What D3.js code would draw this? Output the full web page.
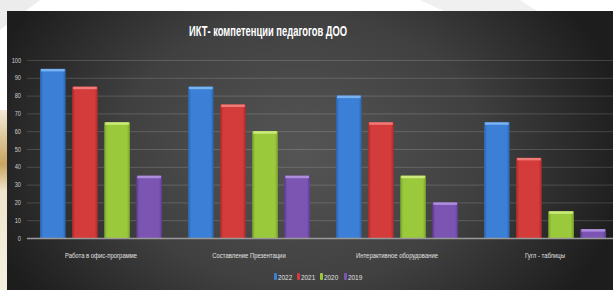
<!DOCTYPE html>
<html>
<head>
<meta charset="utf-8">
<script src="https://cdn.jsdelivr.net/npm/d3@7"></script>
<style>
  html, body { margin: 0; padding: 0; background: #ffffff; overflow: hidden; }
  svg { display: block; }
</style>
</head>
<body>
<svg id="chart" width="613" height="290"></svg>
<script>
// ---- data ----
const title = "ИКТ- компетенции педагогов ДОО";
const categories = ["Работа в  офис-программе", "Составление Презентации", "Интерактивное оборудование", "Гугл - таблицы"];
const seriesNames = ["2022", "2021", "2020", "2019"];
const values2022 = [95, 85, 80, 65];
const values2021 = [85, 75, 65, 45];
const values2020 = [65, 60, 35, 15];
const values2019 = [35, 35, 20, 5];
const yTicks = [0, 10, 20, 30, 40, 50, 60, 70, 80, 90, 100];

const seriesValues = [values2022, values2021, values2020, values2019];
const colors = ["#3b80d6", "#d43b3b", "#9bc93c", "#7c55b2"];
const lightColors = ["#79b2f0", "#f07a78", "#cdeb7c", "#ad8edc"];
const darkColors = ["#2a62a8", "#a82a2a", "#78a22a", "#5d3c8e"];

const svg = d3.select("#chart");
const W = 613, H = 290;
const font = "'Liberation Sans', 'DejaVu Sans', sans-serif";

const defs = svg.append("defs");

// background decoration
svg.append("rect").attr("width", W).attr("height", H).attr("fill", "#ffffff");
svg.append("path").attr("d", "M0,0 L40,0 L0,30 Z").attr("fill", "#ececec");
svg.append("path").attr("d", "M420,0 L520,0 L613,60 L613,90 Z").attr("fill", "#f0f0f0");
const beige = defs.append("linearGradient").attr("id", "beige").attr("x1", 0).attr("y1", 0).attr("x2", 0).attr("y2", 1);
beige.append("stop").attr("offset", 0).attr("stop-color", "#f3ead8");
beige.append("stop").attr("offset", 0.3).attr("stop-color", "#c9a460");
beige.append("stop").attr("offset", 0.45).attr("stop-color", "#efe4cc");
beige.append("stop").attr("offset", 1).attr("stop-color", "#f6f0e2");
svg.append("rect").attr("x", 0).attr("y", 110).attr("width", 8).attr("height", 180).attr("fill", "url(#beige)");

// chart background
const bg = defs.append("radialGradient").attr("id", "bg")
  .attr("gradientUnits", "userSpaceOnUse")
  .attr("cx", 300).attr("cy", 150).attr("r", 330)
  .attr("gradientTransform", "translate(300,150) scale(1,0.75) translate(-300,-150)");
bg.append("stop").attr("offset", 0).attr("stop-color", "#555555");
bg.append("stop").attr("offset", 0.55).attr("stop-color", "#404040");
bg.append("stop").attr("offset", 1).attr("stop-color", "#1d1d1d");
svg.append("rect").attr("x", 7).attr("y", 11).attr("width", W - 7).attr("height", H - 11).attr("fill", "url(#bg)");

// scales
const x0 = d3.scaleBand().domain(categories).range([27, 619]).paddingInner(0).paddingOuter(0);
const x1 = d3.scaleBand().domain(seriesNames).range([13, 135]).paddingInner(0.2).paddingOuter(0);
const y = d3.scaleLinear().domain([0, 100]).range([238, 60]);

// gridlines
svg.append("g").selectAll("line").data(yTicks.filter(d => d > 0)).join("line")
  .attr("x1", 27).attr("x2", W)
  .attr("y1", d => y(d) + 0.5).attr("y2", d => y(d) + 0.5)
  .attr("stroke", "rgba(255,255,255,0.16)").attr("stroke-width", 1);

// y axis labels (condensed)
const gy = svg.append("g");
gy.selectAll("text").data(yTicks).join("text")
  .attr("transform", d => `translate(21,${y(d) + 2.5}) scale(0.75,1)`)
  .attr("text-anchor", "end")
  .attr("fill", "#d0d0d0").attr("font-family", font).attr("font-size", 7.5)
  .text(d => d);

// bar gradients
seriesNames.forEach((s, i) => {
  const g = defs.append("linearGradient").attr("id", "bar" + i).attr("x1", 0).attr("y1", 0).attr("x2", 1).attr("y2", 0);
  g.append("stop").attr("offset", 0).attr("stop-color", darkColors[i]);
  g.append("stop").attr("offset", 0.12).attr("stop-color", colors[i]);
  g.append("stop").attr("offset", 0.88).attr("stop-color", colors[i]);
  g.append("stop").attr("offset", 1).attr("stop-color", darkColors[i]);
});

// bars
const rows = [];
categories.forEach((c, ci) => {
  seriesNames.forEach((s, si) => rows.push({ c, s, si, v: seriesValues[si][ci] }));
});
const bars = svg.append("g").selectAll("g").data(rows).join("g");
bars.append("rect")
  .attr("x", d => x0(d.c) + x1(d.s))
  .attr("y", d => y(d.v))
  .attr("width", x1.bandwidth())
  .attr("height", d => y(0) - y(d.v))
  .attr("fill", d => `url(#bar${d.si})`);
bars.append("rect")
  .attr("x", d => x0(d.c) + x1(d.s) + 1)
  .attr("y", d => y(d.v))
  .attr("width", x1.bandwidth() - 2)
  .attr("height", 2.5)
  .attr("fill", d => lightColors[d.si]);

// x axis line
svg.append("line").attr("x1", 27).attr("x2", W).attr("y1", y(0) + 0.5).attr("y2", y(0) + 0.5)
  .attr("stroke", "#9a9a9a").attr("stroke-width", 1.5);

// category labels (condensed)
svg.append("g").selectAll("text").data(categories).join("text")
  .attr("transform", d => `translate(${x0(d) + 74},258) scale(0.74,1)`)
  .attr("text-anchor", "middle")
  .attr("fill", "#e0e0e0")
  .attr("font-family", font).attr("font-size", 8)
  .text(d => d);

// title (condensed)
svg.append("text").attr("transform", "translate(268,36) scale(0.67,1)").attr("text-anchor", "middle")
  .attr("fill", "#ffffff").attr("font-family", font).attr("font-size", 14).attr("font-weight", "bold")
  .text(title);

// legend
const legendX = [274, 297, 320, 344];
const lg = svg.append("g").selectAll("g").data(seriesNames).join("g")
  .attr("transform", (d, i) => `translate(${legendX[i]},277)`);
lg.append("rect").attr("x", 0).attr("y", -4).attr("width", 3).attr("height", 7).attr("rx", 1)
  .attr("fill", (d, i) => colors[i]);
lg.append("text").attr("transform", "translate(4,3) scale(0.8,1)").attr("fill", "#e0e0e0")
  .attr("font-family", font).attr("font-size", 8).text(d => d);
</script>
</body>
</html>
